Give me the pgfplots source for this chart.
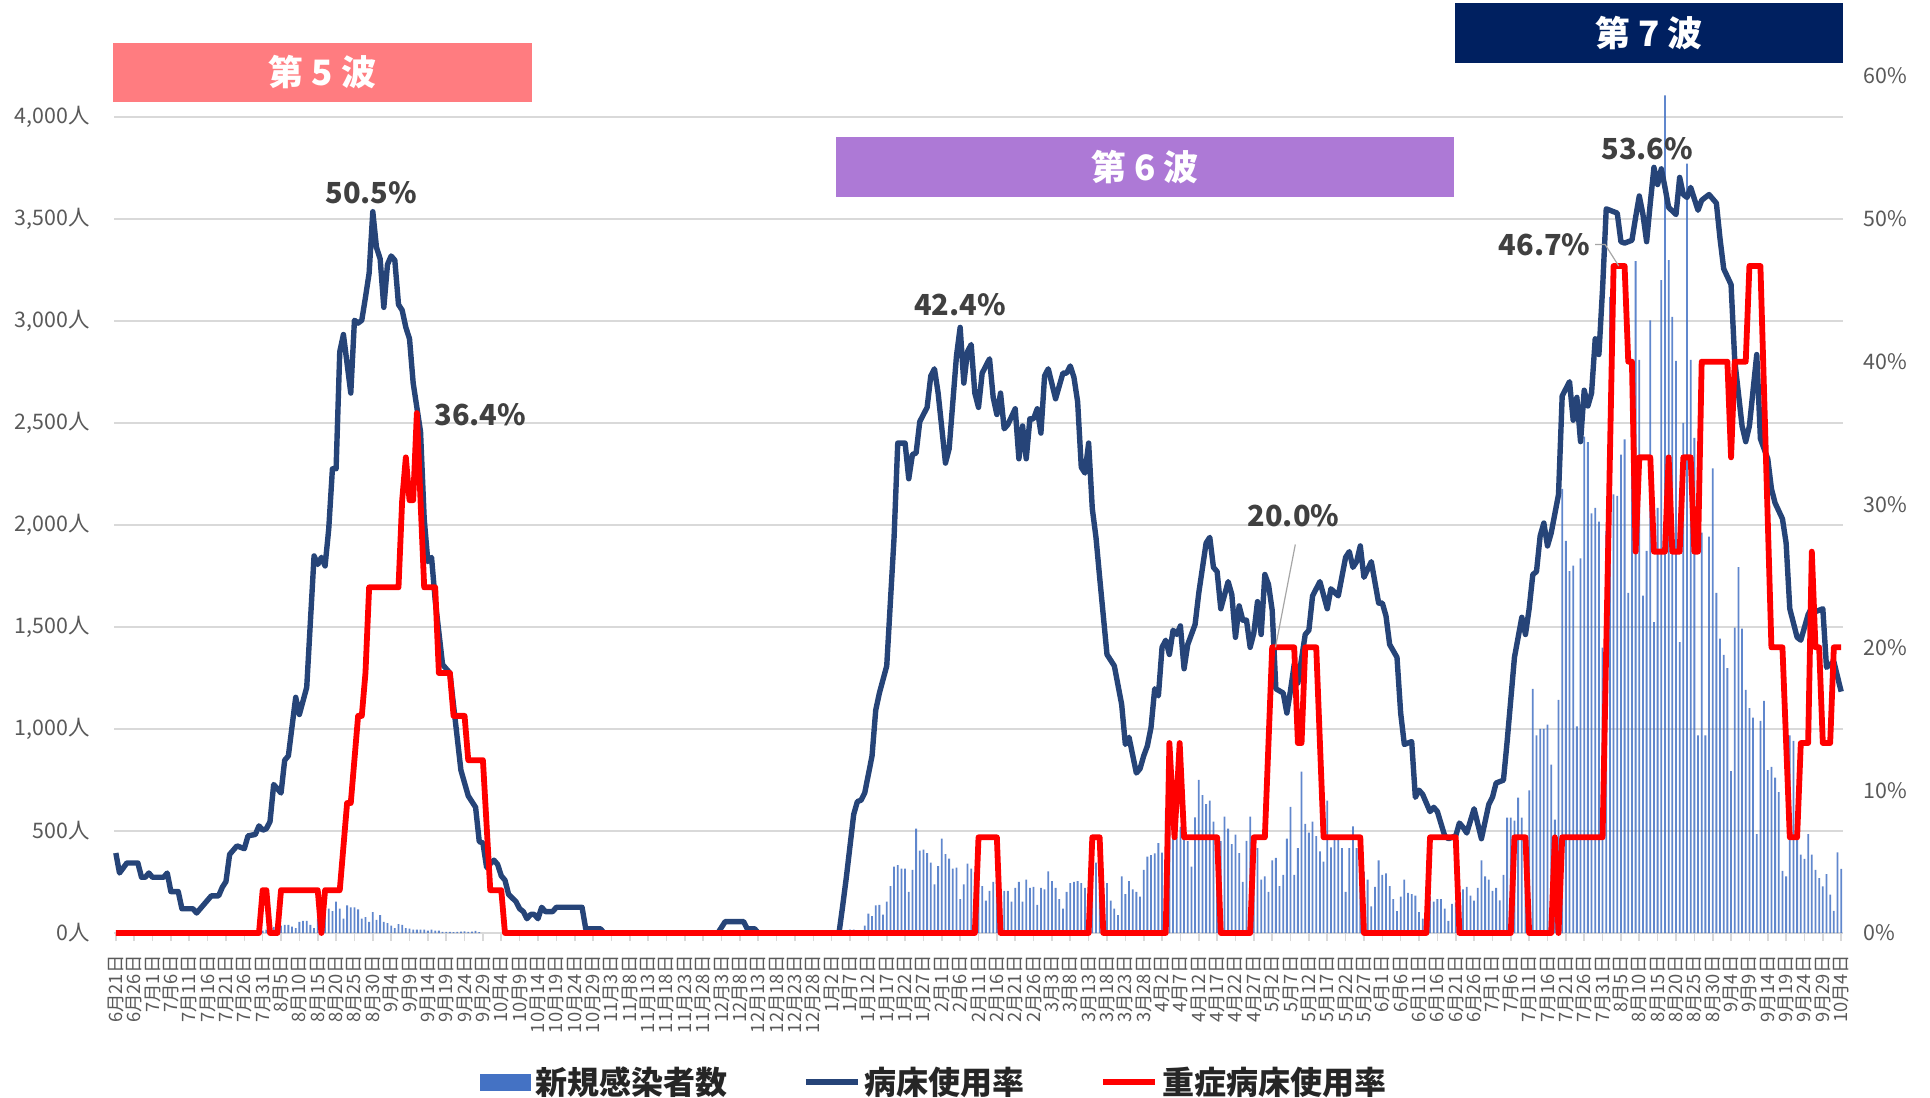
\documentclass[border=0pt]{standalone}
\usepackage{fontspec}
\setmainfont{Noto Sans CJK JP}
\usepackage{pgfplots}
\usepackage{pgfplotstable}
\pgfplotsset{compat=1.18}

\definecolor{barblue}{HTML}{4472C4}
\definecolor{bednavy}{HTML}{264478}
\definecolor{sevred}{HTML}{FF0000}
\definecolor{gridgray}{HTML}{D9D9D9}
\definecolor{ticktext}{HTML}{595959}
\definecolor{labeltext}{HTML}{404040}
\definecolor{wavefive}{HTML}{FF7C80}
\definecolor{wavesix}{HTML}{AD79D6}
\definecolor{waveseven}{HTML}{002060}

% new cases per day (day index 0 = 6/21)
\pgfplotstableread{
day cases
40 12
41 17
42 24
43 30
44 36
45 36
46 40
47 40
48 31
49 24
50 55
51 59
52 59
53 40
54 24
55 71
56 12
57 119
58 119
59 107
60 154
61 119
62 71
63 135
64 126
65 126
66 116
67 71
68 78
69 55
70 102
71 64
72 88
73 55
74 48
75 36
76 24
77 43
78 40
79 24
80 21
81 17
82 17
83 17
84 17
85 12
86 17
87 12
88 12
89 5
90 5
91 5
92 4
93 5
94 7
95 8
96 5
97 7
98 10
99 4
200 17
201 17
202 10
203 10
204 36
205 95
206 83
207 135
208 138
209 90
210 154
211 230
212 325
213 333
214 316
215 316
216 202
217 309
218 511
219 404
220 409
221 392
222 345
223 238
224 328
225 463
226 387
227 364
228 316
229 321
230 166
231 238
232 340
233 316
234 300
235 250
236 230
237 159
238 207
239 250
240 260
241 200
242 207
243 207
244 154
245 221
246 250
247 154
248 261
249 221
250 226
251 138
252 221
253 214
254 302
255 254
256 221
257 166
258 119
259 202
260 245
261 250
262 254
263 245
264 221
265 180
266 250
267 345
268 200
269 178
270 245
271 159
272 119
273 88
274 278
275 190
276 254
277 214
278 202
279 178
280 309
281 374
282 382
283 390
284 440
285 394
286 600
287 700
288 550
289 472
290 520
291 472
292 450
293 325
294 567
295 750
296 676
297 632
298 649
299 546
300 480
301 450
302 570
303 511
304 435
305 482
306 392
307 250
308 451
309 570
310 400
311 416
312 261
313 278
314 202
315 356
316 368
317 230
318 285
319 463
320 618
321 285
322 416
323 791
324 535
325 492
326 546
327 475
328 400
329 350
330 649
331 420
332 468
333 458
334 416
335 202
336 416
337 523
338 416
339 350
340 300
341 261
342 131
343 226
344 356
345 285
346 292
347 230
348 166
349 107
350 178
351 261
352 197
353 190
354 183
355 102
356 71
357 200
358 180
359 154
360 166
361 166
362 119
363 59
364 143
365 150
366 180
367 214
368 226
369 183
370 159
371 221
372 356
373 278
374 261
375 207
376 221
377 160
378 285
379 565
380 565
381 551
382 664
383 565
384 400
385 699
386 1196
387 968
388 1000
389 1000
390 1021
391 825
392 556
393 1142
394 2177
395 1922
396 1774
397 1801
398 1013
399 1836
400 2433
401 2406
402 2056
403 2083
404 2016
405 1398
406 1970
407 3118
408 2150
409 2142
410 2344
411 2419
412 1667
413 2600
414 3293
415 2809
416 1653
417 1873
418 3002
419 1524
420 2083
421 3199
422 4105
423 3298
424 3019
425 2804
426 1425
427 2500
428 3771
429 2809
430 2427
431 968
432 1962
433 968
434 1943
435 2277
436 1667
437 1443
438 1363
439 1298
440 793
441 1497
442 1793
443 1492
444 1191
445 1102
446 1056
447 484
448 1040
449 1137
450 798
451 814
452 761
453 691
454 304
455 277
456 968
457 941
458 457
459 384
460 363
461 484
462 384
463 309
464 269
465 228
466 288
467 188
468 108
469 395
470 314
}\casestable

\begin{document}
\begin{tikzpicture}
\useasboundingbox (0,0) rectangle (965pt,548.5pt);

% left axis: new cases
\begin{axis}[
  at={(57pt,82pt)}, anchor=south west,
  scale only axis, width=864.5pt, height=428.5pt,
  xmin=-0.5, xmax=470.5, ymin=0, ymax=4200,
  axis x line*=bottom, axis y line*=left,
  x axis line style={draw=gridgray, line width=1pt, -},
  y axis line style={draw=none},
  tick align=outside,
  major tick length=4pt,
  xtick={0,5,...,470},
  xticklabels={6月21日,6月26日,7月1日,7月6日,7月11日,7月16日,7月21日,7月26日,7月31日,8月5日,8月10日,8月15日,8月20日,8月25日,8月30日,9月4日,9月9日,9月14日,9月19日,9月24日,9月29日,10月4日,10月9日,10月14日,10月19日,10月24日,10月29日,11月3日,11月8日,11月13日,11月18日,11月23日,11月28日,12月3日,12月8日,12月13日,12月18日,12月23日,12月28日,1月2日,1月7日,1月12日,1月17日,1月22日,1月27日,2月1日,2月6日,2月11日,2月16日,2月21日,2月26日,3月3日,3月8日,3月13日,3月18日,3月23日,3月28日,4月2日,4月7日,4月12日,4月17日,4月22日,4月27日,5月2日,5月7日,5月12日,5月17日,5月22日,5月27日,6月1日,6月6日,6月11日,6月16日,6月21日,6月26日,7月1日,7月6日,7月11日,7月16日,7月21日,7月26日,7月31日,8月5日,8月10日,8月15日,8月20日,8月25日,8月30日,9月4日,9月9日,9月14日,9月19日,9月24日,9月29日,10月4日},
  xtick style={draw=gridgray, line width=0.8pt},
  xticklabel style={font=\fontsize{9.2}{10}\selectfont, text=ticktext, rotate=90, anchor=east, inner sep=0pt},
  xticklabel shift=7pt,
  ytick={0,500,...,4000},
  ytick style={draw=none},
  yticklabel={\pgfmathprintnumber[assume math mode=true,1000 sep={,}]{\tick}人},
  yticklabel style={font=\fontsize{10.7}{12}\selectfont, text=ticktext, anchor=east, inner sep=0pt},
  yticklabel shift=8pt,
  ymajorgrids, grid style={gridgray, line width=1pt},
]
\addplot[ybar, bar width=0.9pt, fill=barblue, draw=none, fill opacity=0.85] table[x=day, y=cases] {\casestable};
\end{axis}

% right axis: bed occupancy
\begin{axis}[
  at={(57pt,82pt)}, anchor=south west,
  scale only axis, width=864.5pt, height=428.5pt,
  xmin=-0.5, xmax=470.5, ymin=0, ymax=60,
  axis x line=none, axis y line*=right,
  y axis line style={draw=none},
  ytick={0,10,...,60},
  ytick style={draw=none},
  major tick length=0pt,
  yticklabel={\pgfmathprintnumber[assume math mode=true]{\tick}\%},
  yticklabel style={font=\fontsize{10.7}{12}\selectfont, text=ticktext, anchor=west, inner sep=0pt},
  yticklabel shift=10pt,
  clip=false,
  legend style={at={(0.475,-0.174)}, anchor=center, draw=none, fill=none,
    legend columns=3, font=\bfseries\fontsize{16}{18}\selectfont, text=black!85,
    /tikz/every even column/.append style={column sep=36pt}},
  legend image code/.code={\draw[#1] (0pt,0pt) -- (26pt,0pt);},
]
\addlegendimage{legend image code/.code={\fill[barblue] (0pt,-4pt) rectangle (25pt,4pt);}}
\addlegendentry{新規感染者数}
\addplot[bednavy, line width=2.7pt, line join=round] coordinates {
(0,5.6) (1,4.2) (3,4.9) (6,4.9) (7,3.9) (8,3.9) (9,4.2) (10,3.9) (13,3.9) (14,4.2) (15,2.9) (17,2.9) (18,1.7) (21,1.7) (22,1.4) (26,2.6) (28,2.6) (29,3.2) (30,3.6) (31,5.5) (33,6.1) (35,5.9) (36,6.8) (38,6.9) (39,7.5) (40,7.2) (41,7.3) (42,7.8) (43,10.4) (45,9.8) (46,12.1) (47,12.4) (49,16.5) (50,15.3) (52,17.2) (54,26.4) (55,25.8) (56,26.3) (57,25.7) (58,28.3) (59,32.5) (60,32.5) (61,40.7) (62,41.9) (64,37.8) (65,42.9) (66,42.7) (67,42.9) (68,44.5) (69,46.2) (70,50.5) (71,48.0) (72,47.2) (73,43.8) (74,46.8) (75,47.4) (76,47.1) (77,44.0) (78,43.6) (79,42.4) (80,41.6) (81,38.5) (82,36.8) (83,35.1) (84,29.0) (85,26.0) (86,26.3) (87,23.3) (89,18.8) (91,18.2) (94,11.4) (96,9.6) (98,8.8) (99,6.4) (100,6.3) (101,4.6) (103,5.1) (104,4.8) (105,4.0) (106,3.7) (107,2.7) (109,2.2) (110,1.7) (111,1.5) (112,1.0) (113,1.3) (114,1.3) (115,1.0) (116,1.8) (117,1.5) (119,1.5) (120,1.8) (127,1.8) (128,0.3) (132,0.3) (133,0) (164,0) (166,0.8) (171,0.8) (172,0.3) (174,0.3) (175,0) (197,0) (198,1.9) (199,3.9) (201,8.3) (202,9.2) (203,9.3) (204,9.8) (206,12.4) (207,15.6) (208,16.8) (210,18.7) (212,27.7) (213,34.3) (215,34.3) (216,31.8) (217,33.5) (218,33.6) (219,35.8) (221,36.8) (222,39.0) (223,39.5) (224,37.8) (226,32.9) (227,33.9) (229,40.4) (230,42.4) (231,38.5) (232,40.7) (233,41.2) (234,37.8) (235,36.8) (236,39.2) (238,40.2) (239,37.5) (240,36.3) (241,37.8) (242,35.3) (243,35.6) (245,36.7) (246,33.2) (247,35.5) (248,33.2) (249,36.0) (250,36.0) (251,36.7) (252,35.0) (253,39.0) (254,39.5) (256,37.4) (258,39.2) (259,39.2) (260,39.7) (261,38.9) (262,37.2) (263,32.6) (264,32.2) (265,34.3) (266,29.7) (267,27.7) (268,24.9) (270,19.5) (272,18.7) (274,16.0) (275,13.2) (276,13.7) (278,11.2) (279,11.5) (280,12.4) (281,13.1) (282,14.4) (283,17.1) (284,16.6) (285,20.0) (286,20.5) (287,19.5) (288,21.2) (289,20.9) (290,21.5) (291,18.5) (292,20.2) (294,21.6) (295,23.8) (297,27.3) (298,27.7) (299,25.6) (300,25.3) (301,22.7) (303,24.6) (304,23.7) (305,20.7) (306,22.9) (307,21.9) (308,21.9) (309,20.0) (310,21.0) (311,23.2) (312,20.9) (313,25.1) (314,24.4) (315,22.6) (316,17.1) (318,16.8) (319,15.4) (320,17.0) (321,18.8) (322,17.5) (324,20.9) (325,21.2) (326,23.6) (328,24.6) (330,22.7) (331,24.1) (333,23.6) (335,26.3) (336,26.7) (337,25.6) (338,26.0) (339,27.1) (340,24.9) (342,26.0) (344,23.1) (345,23.1) (346,22.2) (347,20.2) (349,19.3) (350,15.4) (351,13.2) (353,13.4) (354,9.5) (355,10.0) (356,9.7) (358,8.5) (359,8.8) (360,8.5) (362,6.8) (363,6.6) (365,6.8) (366,7.7) (367,7.4) (368,7.0) (370,8.7) (372,6.6) (374,9.0) (375,9.5) (376,10.5) (378,10.7) (379,13.4) (381,19.3) (383,22.1) (384,20.9) (385,22.7) (386,25.1) (387,25.3) (388,27.8) (389,28.7) (390,27.1) (391,28.0) (393,30.7) (394,37.6) (396,38.6) (397,35.9) (398,37.5) (399,34.4) (400,38.0) (401,36.9) (402,37.8) (403,41.6) (404,40.5) (405,45.1) (406,50.7) (408,50.5) (409,50.4) (410,48.4) (411,48.3) (413,48.5) (414,50.1) (415,51.6) (416,50.3) (417,48.4) (418,51.1) (419,53.6) (420,52.4) (421,53.5) (422,52.2) (423,50.8) (425,50.3) (426,52.9) (427,51.7) (428,51.5) (429,52.2) (431,50.6) (432,51.3) (434,51.7) (436,51.1) (437,48.6) (438,46.5) (440,45.4) (441,40.1) (443,35.5) (444,34.4) (445,35.5) (447,40.5) (448,34.6) (450,33.2) (451,31.1) (452,30.1) (454,29.0) (455,27.3) (456,22.7) (457,21.7) (458,20.7) (459,20.5) (461,22.3) (462,22.8) (463,22.5) (465,22.7) (466,18.6) (468,19.0) (470,16.9)
};
\addlegendentry{病床使用率}
\addplot[sevred, line width=2.9pt, line join=round] coordinates {
(0,0) (39,0) (40,3.0) (41,3.0) (42,0) (44,0) (45,3.0) (55,3.0) (56,0) (57,3.0) (61,3.0) (63,9.1) (64,9.1) (66,15.2) (67,15.2) (68,18.2) (69,24.2) (77,24.2) (78,30.3) (79,33.3) (80,30.3) (81,30.3) (82,36.4) (84,24.2) (87,24.2) (88,18.2) (91,18.2) (92,15.2) (95,15.2) (96,12.1) (100,12.1) (102,3.0) (105,3.0) (106,0) (234,0) (235,6.7) (240,6.7) (241,0) (265,0) (266,6.7) (268,6.7) (269,0) (286,0) (287,13.3) (288.4,6.7) (289.8,13.3) (291,6.7) (300,6.7) (301,0) (309,0) (310,6.7) (313,6.7) (315,20.0) (321,20.0) (322,13.3) (323,13.3) (324,20.0) (327,20.0) (329,6.7) (339,6.7) (340,0) (357,0) (358,6.7) (365,6.7) (366,0) (380,0) (381,6.7) (384,6.7) (385,0) (391,0) (392,6.7) (393,0) (394,6.7) (405,6.7) (408,46.7) (411,46.7) (412,40.0) (413,40.0) (414,26.7) (415,33.3) (418,33.3) (419,26.7) (422,26.7) (423,33.3) (424,26.7) (426,26.7) (427,33.3) (429,33.3) (430,26.7) (431,26.7) (432,40.0) (439,40.0) (440,33.3) (441,40.0) (444,40.0) (445,46.7) (448,46.7) (451,20.0) (454,20.0) (456,6.7) (458,6.7) (459,13.3) (461,13.3) (462,26.7) (463,20.0) (464,20.0) (465,13.3) (467,13.3) (468,20.0) (470,20.0)
};
\addlegendentry{重症病床使用率}

% wave banners
\fill[wavefive] (axis cs:-0.9,58.2) rectangle (axis cs:113.4,62.3);
\node[text=white, font=\bfseries\fontsize{17.5}{20}\selectfont] at (axis cs:56.3,60.25) {第 5 波};
\fill[wavesix] (axis cs:196.2,51.5) rectangle (axis cs:364.4,55.7);
\node[text=white, font=\bfseries\fontsize{17.5}{20}\selectfont] at (axis cs:280.3,53.6) {第 6 波};
\fill[waveseven] (axis cs:364.7,60.9) rectangle (axis cs:470.5,65.1);
\node[text=white, font=\bfseries\fontsize{17.5}{20}\selectfont] at (axis cs:417.6,63.0) {第 7 波};

% data labels
\tikzset{datalbl/.style={text=labeltext, font=\bfseries\fontsize{14.5}{16}\selectfont}}
\node[datalbl] at (axis cs:69.6,51.8) {50.5\%};
\node[datalbl] at (axis cs:99.3,36.3) {36.4\%};
\node[datalbl] at (axis cs:230,44.0) {42.4\%};
\node[datalbl] at (axis cs:320.8,29.2) {20.0\%};
\draw[gray!70, line width=0.6pt] (axis cs:321.3,27.2) -- (axis cs:315.9,20.0);
\node[datalbl] at (axis cs:389.2,48.2) {46.7\%};
\draw[gray!70, line width=0.6pt] (axis cs:403,48.2) -- (axis cs:405.7,48.2) -- (axis cs:409.4,46.7);
\node[datalbl] at (axis cs:417.2,54.9) {53.6\%};
\end{axis}
\end{tikzpicture}
\end{document}
